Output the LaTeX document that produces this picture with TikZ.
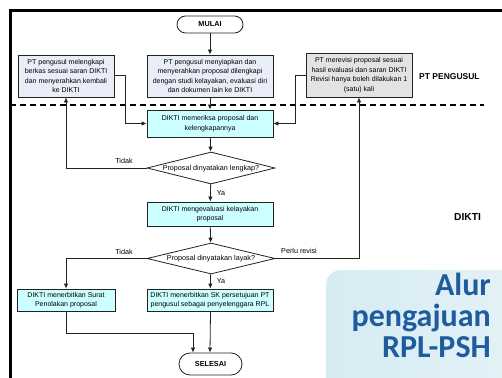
\documentclass[tikz,border=0pt]{standalone}
\usepackage{fontspec}
\setmainfont{Liberation Sans}
\newfontfamily\titlefont{Carlito}
\usetikzlibrary{shapes.geometric,arrows.meta}
\definecolor{ptfill}{HTML}{E9EDF8}
\definecolor{dikfill}{HTML}{CCFFFF}
\definecolor{greyfill}{HTML}{E3E3E3}
\definecolor{titleblue}{HTML}{1E5C9E}
\definecolor{panelL}{HTML}{D6EBF3}
\definecolor{panelR}{HTML}{E4F2F7}
\definecolor{linec}{HTML}{222222}
\tikzset{
  box/.style={draw=linec, line width=0.8pt, inner sep=0pt, align=center,
    font=\fontsize{7}{9.6}\selectfont},
  ptbox/.style={box, fill=ptfill},
  dikbox/.style={box, fill=dikfill},
  greybox/.style={box, fill=greyfill},
  terminal/.style={draw=linec, line width=0.8pt, fill=white, inner sep=0pt,
    font=\fontsize{7.3}{9}\selectfont\bfseries},
  decision/.style={draw=linec, line width=0.8pt, fill=white, diamond, inner sep=0pt,
    minimum width=128pt, minimum height=32pt},
  dtext/.style={font=\fontsize{7.2}{9}\selectfont, inner sep=0pt},
  lbl/.style={font=\fontsize{7.2}{9}\selectfont, inner sep=0pt},
  conn/.style={draw=linec, line width=0.8pt},
  arr/.style={conn, -{Latex[length=5pt,width=4.5pt]}},
  lane/.style={font=\bfseries, inner sep=0pt}
}
\begin{document}
\begin{tikzpicture}[x=1pt,y=-1pt]
\useasboundingbox (0,0) rectangle (502,377);
\begin{scope}
\clip (0,0) rectangle (502,377);
% title panel
\shade[left color=panelL, right color=panelR, rounded corners=15pt] (326,270) rectangle (530,400);
\node[anchor=north east, align=right, inner sep=0pt, text=titleblue,
  font=\titlefont\fontsize{32}{31}\selectfont\bfseries] (title) at (491,273)
  {Alur\\pengajuan\\RPL-PSH};
% frame
\draw[line width=3pt] (10.5,380) -- (10.5,10.5) -- (505,10.5);
% lane divider
\draw[line width=1.1pt, dash pattern=on 6pt off 4pt] (10,105) -- (484,105);
% terminals
\node[terminal, minimum width=66pt, minimum height=17pt, rounded corners=8.5pt] (start) at (210,24.5) {MULAI};
\node[terminal, minimum width=63pt, minimum height=22pt, rounded corners=11pt] (end) at (210.5,364) {SELESAI};
% process boxes
\node[ptbox, minimum width=96pt, minimum height=42pt] (fix) at (66,76) {PT pengusul melengkapi\\berkas sesuai saran DIKTI\\dan menyerahkan kembali\\ke DIKTI};
\node[ptbox, minimum width=126pt, minimum height=42pt] (prep) at (210,76) {PT pengusul menyiapkan dan\\menyerahkan proposal dilengkapi\\dengan studi kelayakan, evaluasi diri\\dan dokumen lain ke DIKTI};
\node[greybox, minimum width=106pt, minimum height=44pt] (rev) at (359,75) {PT merevisi proposal sesuai\\hasil evaluasi dan saran DIKTI\\Revisi hanya boleh dilakukan 1\\(satu) kali};
\node[dikbox, minimum width=126pt, minimum height=27pt] (check) at (210,123.5) {DIKTI memeriksa proposal dan\\kelengkapannya};
\node[decision] (d1) at (211,168) {};
\node[dtext] (d1t) at (211,168.5) {Proposal dinyatakan lengkap?};
\node[dikbox, minimum width=126pt, minimum height=24pt] (eval) at (210,214) {DIKTI mengevaluasi kelayakan\\proposal};
\node[decision, minimum height=31pt] (d2) at (211,258.5) {};
\node[dtext] (d2t) at (211,259) {Proposal dinyatakan layak?};
\node[dikbox, minimum width=98pt, minimum height=22pt] (reject) at (66,300) {DIKTI menerbitkan Surat\\Penolakan proposal};
\node[dikbox, minimum width=126pt, minimum height=22pt] (sk) at (210,300) {DIKTI menerbitkan SK persetujuan PT\\pengusul sebagai penyelenggara RPL};
% lane labels
\node[lane, font=\fontsize{8.5}{10}\selectfont\bfseries, anchor=west] (lpt) at (419,77) {PT PENGUSUL};
\node[lane, font=\fontsize{10.2}{12}\selectfont\bfseries, anchor=west] (ldk) at (454,217) {DIKTI};
% connector coordinates
\coordinate (fixc) at (125,75);
\coordinate (revc) at (295,75);
\coordinate (rejc) at (193,333);
% connectors
\draw[arr] (start) -- (prep);
\draw[arr] (prep) -- (check);
\draw[arr] (fix.east |- fixc) -- (fixc) |- (check.west);
\draw[arr] (rev.west |- revc) -- (revc) |- (check.east);
\draw[arr] (check) -- (d1);
\draw[arr] (d1.west) -| (fix.south);
\draw[arr] (d1) -- node[lbl, right=6pt, pos=0.5] (ya1) {Ya} (eval);
\draw[arr] (eval) -- (d2);
\draw[arr] (d2.west) -| (reject.north);
\draw[arr] (d2) -- node[lbl, right=6pt, pos=0.5] (ya2) {Ya} (sk);
\draw[arr] (d2.east) -| (rev.south);
\draw[arr] (reject.south) |- (rejc) -- (rejc |- end.north);
\draw[arr] (sk.south -| end.north) -- (end.north -| sk.south);
% edge labels
\node[lbl] (t1) at (124,160.5) {Tidak};
\node[lbl] (t2) at (124,251.5) {Tidak};
\node[lbl, anchor=west] (pr) at (281,250.5) {Perlu revisi};
\end{scope}
\end{tikzpicture}
\end{document}
